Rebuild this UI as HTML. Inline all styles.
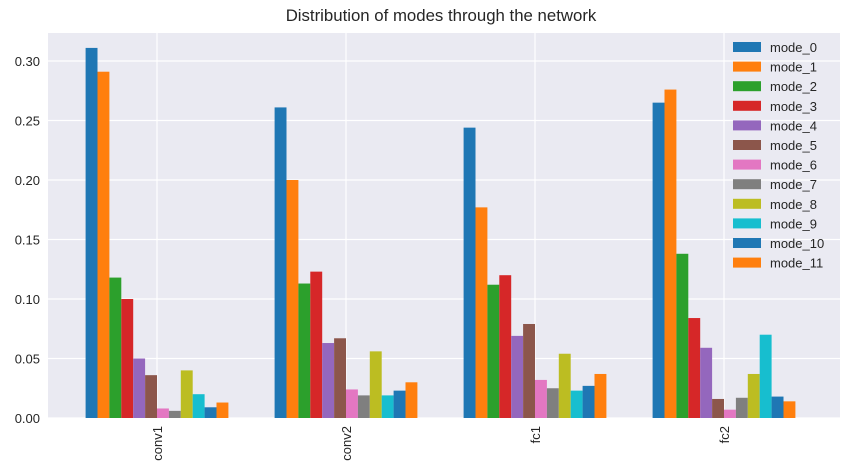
<!DOCTYPE html>
<html><head><meta charset="utf-8"><style>
body{margin:0;background:#fff;font-family:"Liberation Sans",sans-serif}
svg text{font-family:"Liberation Sans",sans-serif;fill:#262626}
</style></head><body>
<svg id="c" width="851" height="467"></svg>
<script>
const categories=["conv1","conv2","fc1","fc2"];
const seriesNames=["mode_0","mode_1","mode_2","mode_3","mode_4","mode_5","mode_6","mode_7","mode_8","mode_9","mode_10","mode_11"];
const conv1Values=[0.311,0.291,0.118,0.100,0.050,0.036,0.008,0.006,0.040,0.020,0.009,0.013];
const conv2Values=[0.261,0.200,0.113,0.123,0.063,0.067,0.024,0.019,0.056,0.019,0.023,0.030];
const fc1Values=[0.244,0.177,0.112,0.120,0.069,0.079,0.032,0.025,0.054,0.023,0.027,0.037];
const fc2Values=[0.265,0.276,0.138,0.084,0.059,0.016,0.007,0.017,0.037,0.070,0.018,0.014];
const yTicks=[0,0.05,0.10,0.15,0.20,0.25,0.30];
const yTickLabels=["0.00","0.05","0.10","0.15","0.20","0.25","0.30"];
const colors=["#1f77b4","#ff7f0e","#2ca02c","#d62728","#9467bd","#8c564b","#e377c2","#7f7f7f","#bcbd22","#17becf","#1f77b4","#ff7f0e"];
const groupValues=[conv1Values,conv2Values,fc1Values,fc2Values];
const NS="http://www.w3.org/2000/svg",svg=document.getElementById('c');
const L=48,R=840,T=33,B=418;
const y=v=>B-v*(357/0.30);
const x=i=>157+i*189;
function mk(t,a,p){const e=document.createElementNS(NS,t);for(const k in a)e.setAttribute(k,a[k]);(p||svg).appendChild(e);return e;}
const bg=mk('rect',{x:L,y:T,width:R-L,height:B-T,fill:'#EAEAF2'});


yTicks.forEach((t,i)=>{
 const g=mk('line',{x1:L,x2:R,y1:y(t),y2:y(t),stroke:'#fff','stroke-width':1.2});
 
 
 const tx=mk('text',{x:L-8,y:y(t)+5,'text-anchor':'end','font-size':13});
 tx.textContent=yTickLabels[i];
 
 
});
categories.forEach((c,i)=>{
 const g=mk('line',{x1:x(i),x2:x(i),y1:T,y2:B,stroke:'#fff','stroke-width':1.2});
 
 
});
const bw=11.9;
groupValues.forEach((vals,gi)=>{
 vals.forEach((v,si)=>{
  const bx=x(gi)-6*bw+si*bw;
  const r=mk('rect',{x:bx,y:y(v),width:bw,height:B-y(v),fill:colors[si]});
  
  
 });
});
categories.forEach((c,i)=>{
 const tx=mk('text',{x:0,y:0,'text-anchor':'end','font-size':13,transform:`translate(${x(i)+5},${B+8}) rotate(-90)`});
 tx.textContent=c;
 
 
});
const title=mk('text',{x:441,y:21,'text-anchor':'middle','font-size':16.8});
title.textContent="Distribution of modes through the network";


seriesNames.forEach((n,i)=>{
 const ly=47+i*19.6;
 const p=mk('rect',{x:733,y:ly-5,width:28,height:10,fill:colors[i]});
 
 
 const t=mk('text',{x:770,y:ly+5,'font-size':13});
 t.textContent=n;
 
 
});
</script>
</body></html>
